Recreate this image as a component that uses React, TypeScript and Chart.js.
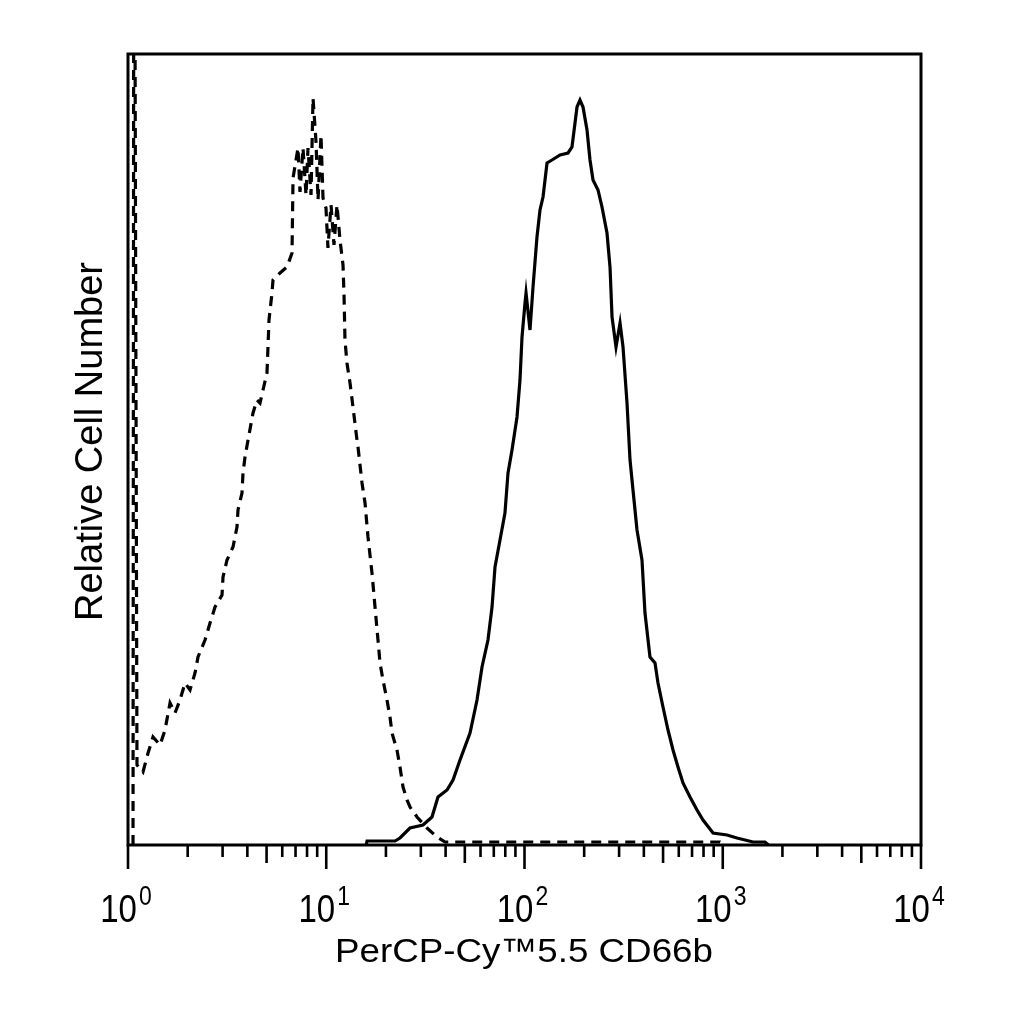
import { useEffect, useRef } from 'react';
import { Chart, registerables } from 'chart.js';

Chart.register(...registerables);

const FONT = '"Liberation Sans", Arial, Helvetica, sans-serif';
const X_MIN = 1;
const X_MAX = 10000;
const Y_MAX = 791;

const DECADES = [0, 1, 2, 3, 4];
const MINOR_STEPS = [2, 3, 4, 5, 6, 7, 8, 9];
const X_TITLE = 'PerCP-Cy™5.5 CD66b';
const Y_TITLE = 'Relative Cell Number';

// stained sample (solid)
const stainedX = [
  15.9, 16.06, 22.23, 23.55, 26.45, 30.76, 34.15, 36.61, 40.66, 43.59, 47.28, 53.11, 57.61, 61.05,
  65.43, 68.58, 71.0, 75.23, 79.7, 82.57, 86.5, 91.67, 94.9, 97.14, 100.6, 101.8, 106.6, 110.4,
  115.6, 119.7, 124.0, 129.9, 137.6, 151.1, 165.8, 173.6, 179.8, 184.0, 190.5, 197.3, 206.7,
  214.0, 221.6, 234.9, 246.0, 260.7, 270.0, 276.4, 289.5, 303.3, 314.0, 328.9, 340.6, 352.6,
  369.4, 391.4, 405.3, 429.5, 455.3, 471.4, 499.5, 529.4, 561.2, 594.6, 630.2, 683.6, 741.7,
  795.2, 893.2, 1051, 1180, 1421, 1634, 1700,
];
const stainedY = [
  0, 4, 4, 7, 17, 20, 28, 48, 55, 65, 85, 112, 145, 178,
  205, 238, 278, 305, 332, 372, 395, 428, 465, 508, 542, 552, 515, 558,
  608, 635, 648, 682, 685, 690, 692, 698, 722, 738, 745, 738, 715,
  685, 665, 655, 638, 612, 578, 528, 498, 522, 498, 442, 385, 355,
  315, 285, 232, 188, 182, 162, 138, 115, 95, 78, 62, 48, 35,
  25, 12, 10, 7, 3, 3, 0,
];

// isotype control (dashed)
const isotypeX = [
  1.06, 1.072, 1.11, 1.19, 1.262, 1.337, 1.45, 1.537, 1.629, 1.726, 1.829, 1.939, 2.055, 2.178,
  2.255, 2.446, 2.593, 2.748, 2.98, 3.015, 3.158, 3.386, 3.546, 3.588, 3.758, 3.803, 3.892,
  4.031, 4.272, 4.474, 4.633, 4.797, 5.024, 5.083, 5.142, 5.325, 5.388, 5.845, 6.339, 6.719,
  6.798, 7.203, 7.372, 7.634, 7.906, 8.091, 8.379, 8.576, 8.88, 9.089, 9.408, 9.63, 9.97,
  10.2, 10.57, 10.94, 11.33, 11.73, 12.15, 12.3, 12.43, 12.72, 13.18, 13.64, 14.29, 14.46,
  15.15, 15.69, 16.24, 17.01, 17.62, 18.24, 18.67, 19.33, 20.25, 20.97, 21.46, 22.74, 23.55,
  24.39, 25.55, 26.45, 28.7, 32.23, 36.19, 39.72, 968.6, 1027,
];
const isotypeY = [
  0, 1200, 80, 73, 92, 108, 100, 115, 142, 132, 145, 162, 155, 172,
  188, 205, 222, 238, 250, 268, 285, 298, 318, 335, 352, 372, 388,
  405, 432, 445, 442, 455, 472, 498, 525, 552, 565, 572, 578, 592,
  667, 697, 653, 697, 650, 697, 650, 747, 703, 645, 710, 647, 637,
  597, 640, 600, 640, 605, 580, 548, 505, 482, 462, 438, 405, 398,
  362, 342, 308, 272, 238, 205, 182, 165, 145, 128, 112, 95, 78,
  58, 45, 38, 28, 17, 8, 3, 3, 0,
];

const toPoints = (xs: number[], ys: number[]) => xs.map((x, i) => ({ x, y: ys[i] }));

const axesPlugin = {
  id: 'flowAxes',
  afterDraw(chart: any) {
    const { ctx, chartArea } = chart;
    const xs = chart.scales.x;
    const { left, right, top, bottom } = chartArea;
    ctx.save();
    ctx.strokeStyle = '#000';
    ctx.fillStyle = '#000';

    // frame
    ctx.lineWidth = 3;
    ctx.strokeRect(left, top, right - left, bottom - top);

    // ticks
    ctx.lineWidth = 2.6;
    ctx.beginPath();
    DECADES.forEach((d) => {
      const px = xs.getPixelForValue(Math.pow(10, d));
      ctx.moveTo(px, bottom);
      ctx.lineTo(px, bottom + 24);
      if (d < DECADES[DECADES.length - 1]) {
        MINOR_STEPS.forEach((m) => {
          const mx = xs.getPixelForValue(m * Math.pow(10, d));
          ctx.moveTo(mx, bottom);
          ctx.lineTo(mx, bottom + (m === 5 ? 18 : 12));
        });
      }
    });
    ctx.stroke();

    // tick labels 10^n
    ctx.textBaseline = 'alphabetic';
    ctx.textAlign = 'left';
    DECADES.forEach((d) => {
      const px = xs.getPixelForValue(Math.pow(10, d));
      ctx.font = `33px ${FONT}`;
      const wBase = ctx.measureText('10').width;
      ctx.font = `23px ${FONT}`;
      const wExp = ctx.measureText(String(d)).width;
      const x0 = px - 2 - (wBase + 2 + wExp) / 2;
      ctx.save();
      ctx.translate(x0, bottom + 77);
      ctx.scale(1, 1.18);
      ctx.font = `33px ${FONT}`;
      ctx.fillText('10', 0, 0);
      ctx.restore();
      ctx.save();
      ctx.translate(x0 + wBase + 2, bottom + 60);
      ctx.scale(1, 1.2);
      ctx.font = `23px ${FONT}`;
      ctx.fillText(String(d), 0, 0);
      ctx.restore();
    });

    // x title
    ctx.font = `34px ${FONT}`;
    ctx.textAlign = 'center';
    const tw = ctx.measureText(X_TITLE).width;
    ctx.save();
    ctx.translate(524, bottom + 117);
    ctx.scale(378 / tw, 1);
    ctx.fillText(X_TITLE, 0, 0);
    ctx.restore();

    // y title
    ctx.font = `38px ${FONT}`;
    ctx.save();
    ctx.translate(left - 26, (top + bottom) / 2 - 8);
    ctx.rotate(-Math.PI / 2);
    ctx.fillText(Y_TITLE, 0, 0);
    ctx.restore();

    ctx.restore();
  },
};

function HistogramOverlay() {
  const canvasRef = useRef<HTMLCanvasElement>(null);

  useEffect(() => {
    if (!canvasRef.current) return;
    const chart = new Chart(canvasRef.current, {
      type: 'line',
      data: {
        datasets: [
          {
            label: 'Isotype',
            data: toPoints(isotypeX, isotypeY),
            borderColor: '#000',
            borderWidth: 3.2,
            borderDash: [10, 7],
            pointRadius: 0,
            tension: 0,
            fill: false,
          },
          {
            label: 'CD66b',
            data: toPoints(stainedX, stainedY),
            borderColor: '#000',
            borderWidth: 3.2,
            pointRadius: 0,
            tension: 0,
            fill: false,
          },
        ],
      },
      options: {
        responsive: true,
        maintainAspectRatio: false,
        animation: false,
        layout: { padding: { left: 128, top: 54, right: 103, bottom: 179 } },
        plugins: { legend: { display: false }, tooltip: { enabled: false } },
        scales: {
          x: { type: 'logarithmic', min: X_MIN, max: X_MAX, display: false },
          y: { type: 'linear', min: 0, max: Y_MAX, display: false },
        },
      },
      plugins: [axesPlugin],
    });
    return () => chart.destroy();
  }, []);

  return (
    <div style={{ position: 'fixed', left: 0, top: 0, width: 1024, height: 1024, background: '#fff' }}>
      <canvas ref={canvasRef} />
    </div>
  );
}

export default function App() {
  return <HistogramOverlay />;
}
